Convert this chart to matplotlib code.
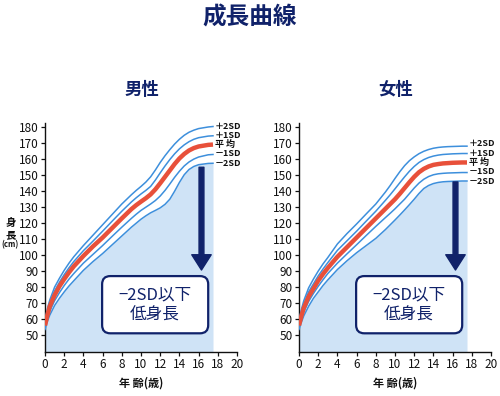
import matplotlib
matplotlib.use("Agg")
import matplotlib.pyplot as plt
from matplotlib.patches import FancyBboxPatch

plt.rcParams['font.family'] = ['Noto Sans CJK JP', 'DejaVu Sans']

# ages (years) at which the curves are read
ages = [0, 0.25, 0.5, 1, 1.5, 2, 2.5, 3, 4, 5, 6, 7, 8, 9, 9.5, 10, 10.5, 11, 11.5,
        12, 12.5, 13, 13.5, 14, 14.5, 15, 15.5, 16, 17, 17.5]

# boys, height in cm
boy_p2 = [59, 66.5, 72, 80, 85.5, 90.5, 95, 99, 106, 112.5, 119, 125.5, 132, 137.8, 140.5, 143, 145.7,
          149, 153.3, 158, 162.2, 166, 169.5, 172.5, 175, 176.9, 178.2, 179.2, 180.2, 180.5]
boy_p1 = [57.5, 64.5, 70, 77.5, 83, 87.8, 92.1, 96, 102.8, 108.8, 115, 121.3, 127.5, 133.3, 135.9, 138.3,
          140.5, 143, 147, 151.5, 155.8, 159.8, 163.4, 166.5, 169, 171, 172.5, 173.5, 174.5, 174.7]
boy_mean = [56, 62.5, 68, 75, 80.5, 85, 89.2, 93, 99.5, 105.5, 111, 117, 123, 128.8, 131.3, 133.5, 135.6,
            138, 141.2, 145, 149, 153, 157, 160.5, 163.3, 165.5, 167, 168, 169, 169.2]
boy_m1 = [55, 60.5, 65, 71.5, 76.5, 81, 85, 88.5, 95, 100.5, 106, 111.8, 117.5, 123, 125.6, 128, 130,
          132, 134.2, 137, 140.5, 144.5, 148.7, 152.5, 155.8, 158.3, 160.1, 161.4, 162.8, 163]
boy_m2 = [53.5, 58.5, 62.5, 68.5, 73, 77, 80.7, 84, 90.5, 96, 101, 106.5, 112, 117.5, 120, 122.5, 124.6,
          126.5, 128, 129.6, 131.8, 135, 140, 145.5, 150.3, 153.6, 155.5, 156.6, 157.4, 157.5]

# girls, height in cm
girl_p2 = [59, 66, 71.5, 79.5, 85, 90, 94.5, 98.5, 107, 113.5, 119.5, 125.8, 132, 139.5, 143.6, 148,
           152.2, 156, 159.1, 161.5, 163.5, 165, 166.1, 166.9, 167.4, 167.7, 167.9, 168, 168.2, 168.2]
girl_p1 = [57.5, 64, 69, 77, 82, 87, 91.3, 95.3, 103, 109, 115, 121.3, 127.5, 134.3, 137.8, 141.5,
           145.3, 149, 152.5, 155.5, 158, 159.8, 161.1, 162, 162.6, 163, 163.2, 163.4, 163.6, 163.6]
girl_mean = [56, 62, 67, 74, 79, 84, 88.2, 92, 99, 105, 111, 117, 123, 129, 132, 135, 138.4, 142,
             145.6, 149, 151.9, 154, 155.5, 156.5, 157, 157.4, 157.6, 157.8, 158, 158]
girl_m1 = [55, 60, 64.5, 71, 76, 80.5, 84.6, 88.5, 95, 100.8, 106.5, 112.3, 118, 123.5, 126.2, 129,
           132, 135, 138.5, 142, 145.1, 147.5, 149.2, 150.3, 150.9, 151.2, 151.4, 151.5, 151.7, 151.7]
girl_m2 = [53.5, 58, 62, 68, 73, 77, 81, 84.5, 91, 96.5, 101.5, 106, 110.5, 116, 119, 122, 125.1,
           128.3, 131.6, 135, 138.6, 141.7, 143.6, 144.8, 145.5, 145.9, 146.1, 146.2, 146.4, 146.4]

curve_labels = ['＋2SD', '＋1SD', '平 均', '－1SD', '－2SD']
x_ticks = list(range(0, 21, 2))
y_ticks = list(range(50, 181, 10))

navy = '#10226a'
line_blue = '#3d8fdc'
red = '#e8503a'
fill_blue = '#cfe3f6'

fig = plt.figure(figsize=(5, 3.96), dpi=100)

fig.text(0.5, 1 - 18 / 396, '成長曲線', ha='center', va='center',
         fontsize=17, fontweight='bold', color=navy)


def draw_panel(left, title, title_x, curves, arrow_top, show_ylabel):
    ax = fig.add_axes([left, 44 / 396, 0.384, 0.5775])
    ymin = 39.4
    ax.set_xlim(0, 20)
    ax.set_ylim(ymin, 182.5)

    p2, p1, mean, m1, m2 = curves

    # shaded region below -2SD
    ax.fill_between(ages, ymin, m2, color=fill_blue, lw=0, zorder=1)

    for c in (p2, p1, m1, m2):
        ax.plot(ages, c, color=line_blue, lw=1.1, zorder=3, solid_joinstyle='round')
    ax.plot(ages, mean, color=red, lw=3.2, zorder=4, solid_capstyle='butt',
            solid_joinstyle='round')

    # labels at the right end of each curve, pushed apart so they don't collide
    label_y = []
    prev = None
    for c in reversed(curves):
        y = c[-1] if prev is None else max(c[-1], prev + 5.8)
        label_y.append(y)
        prev = y
    label_y = label_y[::-1]
    for y, lab in zip(label_y, curve_labels):
        ax.text(17.7, y, lab, fontsize=6.5, fontweight='bold', color='#111111',
                ha='left', va='center', clip_on=False)

    # arrow pointing down into the shaded region
    ax.annotate('', xy=(16.3, 90.7), xytext=(16.3, arrow_top),
                arrowprops=dict(arrowstyle='simple,head_length=1.1,head_width=1.4,tail_width=0.35',
                                color=navy, shrinkA=0, shrinkB=0, mutation_scale=10),
                zorder=5)

    # rounded label box
    box = FancyBboxPatch((5.95, 51.1), 11.05, 35.8,
                         boxstyle='round,pad=0,rounding_size=0.85',
                         mutation_aspect=6.0, facecolor='white', edgecolor=navy,
                         lw=1.6, zorder=6)
    ax.add_patch(box)
    ax.text(11.45, 69, '−2SD以下\n低身長', ha='center', va='center', fontsize=12,
            color=navy, linespacing=1.25, zorder=7)

    for s in ('top', 'right'):
        ax.spines[s].set_visible(False)
    for s in ('left', 'bottom'):
        ax.spines[s].set_linewidth(1.0)
        ax.spines[s].set_color('#111111')
    ax.set_xticks(x_ticks)
    ax.set_yticks(y_ticks)
    ax.tick_params(labelsize=8.5, length=3, width=0.9, pad=1.5, colors='#111111')

    fig.text(title_x / 500, 1 - 90 / 396, title, ha='center', va='center',
             fontsize=12.5, fontweight='bold', color=navy)
    fig.text(title_x / 500, 1 - 383 / 396, '年 齢(歳)', ha='center', va='center',
             fontsize=8, fontweight='bold', color='#111111')

    if show_ylabel:
        fig.text(11 / 500, 1 - 223 / 396, '身', ha='center', va='center',
                 fontsize=7.5, fontweight='bold', color='#111111')
        fig.text(11 / 500, 1 - 235 / 396, '長', ha='center', va='center',
                 fontsize=7.5, fontweight='bold', color='#111111')
        fig.text(10 / 500, 1 - 245 / 396, '(cm)', ha='center', va='center',
                 fontsize=5.5, fontweight='bold', color='#111111')
    return ax


draw_panel(45 / 500, '男性', 141.5, [boy_p2, boy_p1, boy_mean, boy_m1, boy_m2], 155, True)
draw_panel(299 / 500, '女性', 395.5, [girl_p2, girl_p1, girl_mean, girl_m1, girl_m2], 145.8, False)

fig.savefig('out.png', dpi=100)
